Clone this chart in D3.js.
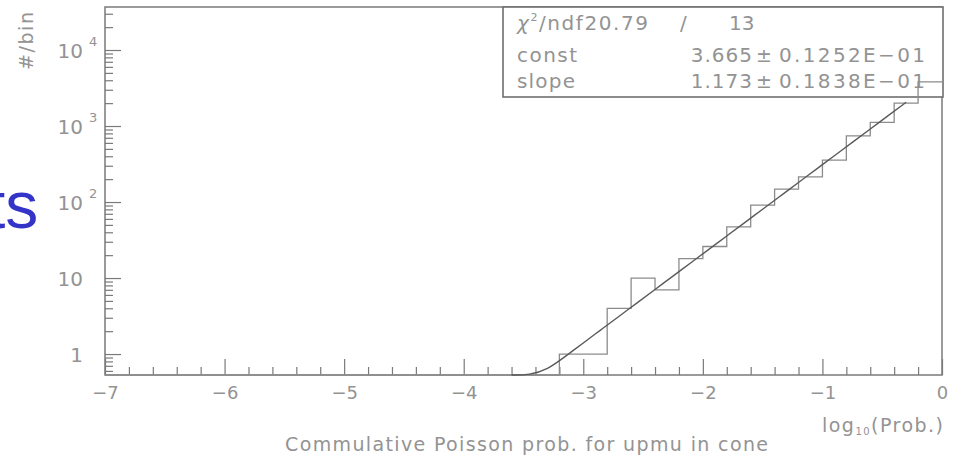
<!DOCTYPE html>
<html>
<head>
<meta charset="utf-8">
<script src="https://cdn.jsdelivr.net/npm/d3@7"></script>
<style>
  html, body { margin: 0; padding: 0; background: #fff; }
  svg { display: block; }
  text { font-family: "DejaVu Sans", sans-serif; fill: #939393; }
</style>
</head>
<body>
<svg id="chart" width="957" height="457"></svg>
<script>
// Histogram of log10 of the cumulative Poisson probability, 0.2-wide bins from -7 to 0
const binStart = -7;
const binWidth = 0.2;
const counts = [
  0, 0, 0, 0, 0, 0, 0, 0, 0, 0,
  0, 0, 0, 0, 0, 0, 0, 0, 0,
  1, 1, 4, 10, 7, 18, 26, 47, 91, 148,
  214, 355, 740, 1120, 2000, 3800
];

// Exponential fit: #/bin = 10^(const + slope * x)
const fitConst = 3.665;
const fitSlope = 1.173;
const fitFrom = -3.6;
const fitTo = -0.3;

// Axis ranges and labels
const xDomain = [-7, 0];
const yDomain = [0.53, 36800];
const xMajorTicks = [-7, -6, -5, -4, -3, -2, -1, 0];
const xTickLabels = ["\u22127", "\u22126", "\u22125", "\u22124", "\u22123", "\u22122", "\u22121", "0"];
const yMajorTicks = [1, 10, 100, 1000, 10000];
const yTickBase = ["1", "10", "10", "10", "10"];
const yTickExp = ["", "", "2", "3", "4"];

// Fit statistics box
const statNames = ["const", "slope"];
const statValues = ["3.665", "1.173"];
const statErrors = ["0.1252E\u221201", "0.1838E\u221201"];
const chi2Text = "/ndf20.79";
const ndfText = "13";

const svg = d3.select("#chart");
const pL = 105, pR = 942, pT = 7, pB = 375;

const x = d3.scaleLinear().domain(xDomain).range([pL, pR]);
const y = d3.scaleLog().domain(yDomain).range([pB, pT]).clamp(true);

const lineCol = "#7a7a7a";

// x axis: ticks pointing into the frame
const xMinor = d3.range(0, 36).map(i => xDomain[0] + i * 0.2)
  .filter(v => Math.abs(v - Math.round(v)) > 1e-6);
svg.append("g").attr("transform", `translate(0,${pB})`)
  .call(d3.axisBottom(x).tickValues(xMinor).tickSize(-8).tickFormat(""))
  .call(g => g.select(".domain").remove())
  .call(g => g.selectAll("line").attr("stroke", lineCol).attr("stroke-width", 1.2));
svg.append("g").attr("transform", `translate(0,${pB})`)
  .call(d3.axisBottom(x).tickValues(xMajorTicks).tickSize(-16).tickPadding(11)
    .tickFormat((d, i) => xTickLabels[i]))
  .call(g => g.select(".domain").remove())
  .call(g => g.selectAll("line").attr("stroke", lineCol).attr("stroke-width", 1.2))
  .call(g => g.selectAll("text").attr("font-size", 18).attr("fill", "#939393")
    .style("font-family", "'DejaVu Sans', sans-serif"));

// y axis (log): major ticks at decades, minor ticks at 2..9
const yAll = y.ticks();
const yMinor = yAll.filter(v => Math.abs(Math.log10(v) - Math.round(Math.log10(v))) > 1e-6);
svg.append("g").attr("transform", `translate(${pL},0)`)
  .call(d3.axisLeft(y).tickValues(yMinor).tickSize(-8).tickFormat(""))
  .call(g => g.select(".domain").remove())
  .call(g => g.selectAll("line").attr("stroke", lineCol).attr("stroke-width", 1.2));
svg.append("g").attr("transform", `translate(${pL},0)`)
  .call(d3.axisLeft(y).tickValues(yMajorTicks).tickSize(-16).tickFormat(""))
  .call(g => g.select(".domain").remove())
  .call(g => g.selectAll("line").attr("stroke", lineCol).attr("stroke-width", 1.2));

const yLab = svg.append("g");
yMajorTicks.forEach((v, i) => {
  yLab.append("text").attr("x", 83).attr("y", y(v) + 7.5)
    .attr("text-anchor", "end").attr("font-size", 20).text(yTickBase[i]);
  if (yTickExp[i]) {
    yLab.append("text").attr("x", 89).attr("y", y(v) - 4)
      .attr("font-size", 13).text(yTickExp[i]);
  }
});

// Frame
svg.append("rect").attr("x", pL).attr("y", pT)
  .attr("width", pR - pL).attr("height", pB - pT)
  .attr("fill", "none").attr("stroke", lineCol).attr("stroke-width", 1.5);

// Statistics box (the histogram outline is drawn over it)
svg.append("rect").attr("x", 503).attr("y", pT).attr("width", pR + 1 - 503).attr("height", 90)
  .attr("fill", "#fff").attr("stroke", "#6e6e6e").attr("stroke-width", 1.6);

const r1 = svg.append("text").attr("x", 517).attr("y", 30).attr("font-size", 20)
  .attr("textLength", 131).attr("lengthAdjust", "spacing");
r1.append("tspan").attr("font-style", "italic").text("\u03c7");
r1.append("tspan").attr("font-size", 11).attr("dy", -9).text("2");
r1.append("tspan").attr("dy", 9).text(chi2Text);
svg.append("text").attr("x", 680).attr("y", 30).attr("font-size", 20).text("/");
svg.append("text").attr("x", 729).attr("y", 30).attr("font-size", 20).text(ndfText);

const rowY = [62, 88];
statNames.forEach((n, i) => {
  svg.append("text").attr("x", 517).attr("y", rowY[i]).attr("font-size", 20)
    .attr("textLength", i === 0 ? 60 : 58).attr("lengthAdjust", "spacing").text(n);
  svg.append("text").attr("x", 753).attr("y", rowY[i]).attr("font-size", 20)
    .attr("text-anchor", "end").attr("letter-spacing", 1).text(statValues[i]);
  svg.append("text").attr("x", 756).attr("y", rowY[i]).attr("font-size", 19).text("\u00b1");
  svg.append("text").attr("x", 779).attr("y", rowY[i]).attr("font-size", 20)
    .attr("textLength", 146).attr("lengthAdjust", "spacing").text(statErrors[i]);
});

// Histogram outline
const histPts = counts.map((c, i) => [binStart + i * binWidth, c]);
histPts.push([xDomain[1], counts[counts.length - 1]]);
svg.append("path")
  .attr("d", d3.line().x(d => x(d[0])).y(d => y(Math.max(d[1], yDomain[0])))
    .curve(d3.curveStepAfter)(histPts))
  .attr("fill", "none").attr("stroke", "#8c8c8c").attr("stroke-width", 1.3);

// Fit curve
const nFit = Math.round((fitTo - fitFrom) / 0.15);
const fitPts = d3.range(nFit + 1).map(i => {
  const xv = fitFrom + (fitTo - fitFrom) * i / nFit;
  return [xv, Math.pow(10, fitConst + fitSlope * xv)];
});
svg.append("path")
  .attr("d", d3.line().x(d => x(d[0])).y(d => y(d[1])).curve(d3.curveBasis)(fitPts))
  .attr("fill", "none").attr("stroke", "#5a5a5a").attr("stroke-width", 1.4);

// Axis titles
const xt = svg.append("text").attr("x", 822).attr("y", 432).attr("font-size", 19)
  .attr("textLength", 121).attr("lengthAdjust", "spacing");
xt.append("tspan").text("log");
xt.append("tspan").attr("font-size", 10).attr("dy", 3).text("10");
xt.append("tspan").attr("dy", -3).text("(Prob.)");

svg.append("text").attr("x", 285).attr("y", 451).attr("font-size", 19)
  .attr("textLength", 483).attr("lengthAdjust", "spacing")
  .text("Commulative Poisson prob. for upmu in cone");

svg.append("text").attr("transform", "translate(33,41) rotate(-90)")
  .attr("text-anchor", "middle").attr("font-size", 19)
  .attr("textLength", 58).attr("lengthAdjust", "spacing").text("#/bin");

// Slide caption partly outside the page on the left
svg.append("text").attr("x", -13).attr("y", 228)
  .attr("font-size", 66).style("font-family", "'Liberation Sans', Arial, sans-serif")
  .style("fill", "#3434c8").text("ts");
</script>
</body>
</html>
